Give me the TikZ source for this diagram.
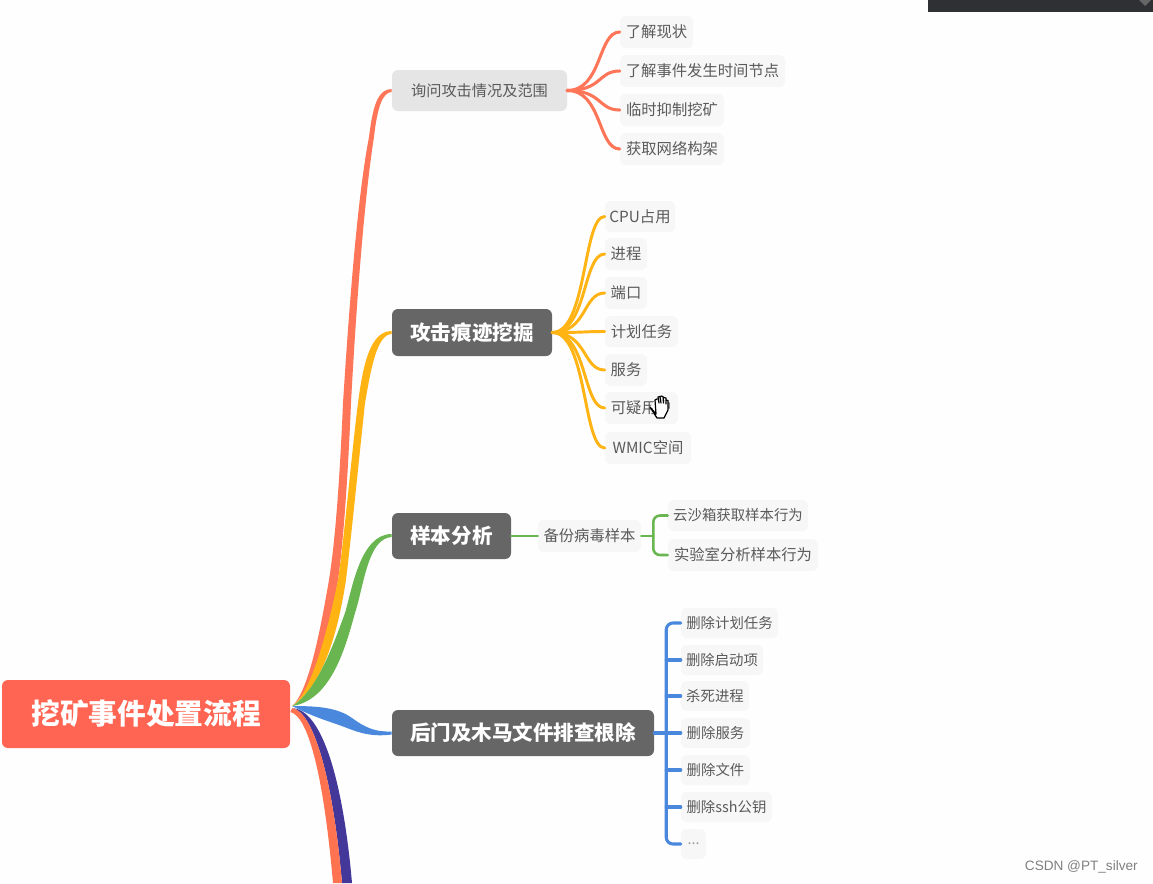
\documentclass[tikz,border=0pt]{standalone}
\usepackage{fontspec}
\setmainfont{Noto Sans CJK SC}
\newfontfamily\wmfont{Liberation Sans}
\usetikzlibrary{calc}
\definecolor{rootc}{HTML}{FF6552}
\definecolor{redb}{HTML}{FF7557}
\definecolor{yelb}{HTML}{FFB414}
\definecolor{greb}{HTML}{69B550}
\definecolor{blub}{HTML}{4A88DE}
\definecolor{navb}{HTML}{43389A}
\definecolor{orab}{HTML}{FF7350}
\definecolor{txtc}{HTML}{5A5A5A}
\definecolor{barc}{HTML}{2E3033}
\tikzset{
  x=0.75pt,y=-0.75pt,
  anybox/.style={rounded corners=4.5pt,inner sep=0pt,align=center},
  rootbox/.style={anybox,fill=rootc,text=white,font=\fontsize{21.5pt}{24pt}\selectfont\bfseries},
  mainbox/.style={anybox,fill=black!60,text=white,font=\fontsize{15.4pt}{18pt}\selectfont\bfseries},
  subbox/.style={anybox,fill=black!10,text=txtc,font=\fontsize{11.4pt}{14pt}\selectfont},
  leafbox/.style={anybox,fill=black!3,text=txtc,font=\fontsize{11.5pt}{14pt}\selectfont},
  smallbox/.style={anybox,fill=black!3,text=txtc,font=\fontsize{10.8pt}{13pt}\selectfont},
  dotsbox/.style={smallbox,text=black!40},
  redlink/.style={draw=redb,line width=2.3pt,line cap=round},
  yellink/.style={draw=yelb,line width=2.2pt,line cap=round},
  grelink/.style={draw=greb,line width=1.9pt,line cap=round,rounded corners=5pt},
  blulink/.style={draw=blub,line width=2.3pt,line cap=round,rounded corners=5pt},
  handline/.style={line cap=round,line join=round}
}
\newcommand{\boxnode}[7]{\node[#2,minimum width={(#5-#3)*0.75pt},minimum height={(#6-#4)*0.75pt}] (#1) at ({(#3+#5)/2},{(#4+#6)/2}) {#7};}
\newcommand{\curvelink}[3]{\draw[#1] (#2.east) .. controls ($(#2.east)+(35,0)$) and ($(#3.west)+(-22,0)$) .. (#3.west);}
\begin{document}
\begin{tikzpicture}
\useasboundingbox (0,0) rectangle (1153,883);
\fill[white!99.5!black] (0,0) rectangle (1153,883);
% window fragment at the top right
\fill[barc] (928,0) rectangle (1153,12);
\fill[black!60] (1139,0) -- (1151,0) -- (1145,6) -- cycle;
% nodes
\boxnode{root}{rootbox}{2}{680}{290}{748}{挖矿事件处置流程}
\boxnode{m1}{subbox}{392}{70}{567}{111}{询问攻击情况及范围}
\boxnode{m2}{mainbox}{392}{309}{552}{356}{攻击痕迹挖掘}
\boxnode{m3}{mainbox}{392}{513}{511}{559}{样本分析}
\boxnode{m4}{mainbox}{392}{710}{654}{756}{后门及木马文件排查根除}
\boxnode{a1}{leafbox}{620}{16}{693}{48}{了解现状}
\boxnode{a2}{leafbox}{620}{55}{785}{87}{了解事件发生时间节点}
\boxnode{a3}{leafbox}{620}{94}{724}{126}{临时抑制挖矿}
\boxnode{a4}{leafbox}{620}{133}{724}{165}{获取网络构架}
\boxnode{b1}{leafbox}{605}{201}{675}{232}{CPU占用}
\boxnode{b2}{leafbox}{605}{238}{647}{270}{进程}
\boxnode{b3}{leafbox}{605}{277}{647}{309}{端口}
\boxnode{b4}{leafbox}{605}{316}{678}{347}{计划任务}
\boxnode{b5}{leafbox}{605}{354}{647}{386}{服务}
\boxnode{b6}{leafbox}{605}{392}{678}{424}{可疑用户}
\boxnode{b7}{leafbox}{605}{432}{691}{464}{WMIC空间}
\boxnode{c0}{leafbox}{538}{520}{641}{552}{备份病毒样本}
\boxnode{c1}{smallbox}{668}{500}{808}{531}{云沙箱获取样本行为}
\boxnode{c2}{leafbox}{668}{539}{818}{571}{实验室分析样本行为}
\boxnode{d1}{smallbox}{681}{608}{778}{638}{删除计划任务}
\boxnode{d2}{smallbox}{681}{645}{763}{675}{删除启动项}
\boxnode{d3}{smallbox}{681}{681}{749}{711}{杀死进程}
\boxnode{d4}{smallbox}{681}{718}{750}{748}{删除服务}
\boxnode{d5}{smallbox}{681}{755}{750}{785}{删除文件}
\boxnode{d6}{smallbox}{681}{792}{772}{822}{删除ssh公钥}
\boxnode{d7}{dotsbox}{681}{829}{706}{859}{...}
% anchor points of the tapered branches
\coordinate (r) at ($(root.east)+(2,-8)$);
\coordinate (rb) at ($(root.east)+(2,-6)$);
\coordinate (rc) at ($(root.east)+(0,-2)$);
\coordinate (m1a) at ($(m1.west)+(0,-1.5)$);
\coordinate (m1b) at ($(m1.west)+(0,1.5)$);
\coordinate (m2a) at ($(m2.west)+(0,-1.5)$);
\coordinate (m2b) at ($(m2.west)+(0,1.5)$);
\coordinate (m3a) at ($(m3.west)+(0,-2)$);
\coordinate (m3b) at ($(m3.west)+(0,1)$);
\coordinate (m4a) at ($(m4.west)+(0,-1.5)$);
\coordinate (m4b) at ($(m4.west)+(0,1.5)$);
\coordinate (n1) at (342,883);
\coordinate (n2) at (352,883);
\coordinate (o1) at (333,883);
% main branches
\fill[navb] (rb) .. controls (314,712) and (333,780) .. (n1) -- (n2) .. controls (343,780) and (322,710) .. (rb) -- cycle;
\fill[orab] (rc) .. controls (309,716) and (324,780) .. (o1) -- (n1) .. controls (333,780) and (314,712) .. (rb) -- cycle;
\fill[redb] (r) .. controls (310,690) and (322,620) .. (329,580) .. controls (337,530) and (341,450) .. (343,403) .. controls (349,310) and (357,200) .. (369,137) .. controls (373,105) and (378,89) .. (m1a)
  -- (m1b) .. controls (382,92) and (377,110) .. (374,137) .. controls (364,200) and (356,310) .. (351,403) .. controls (349,450) and (345,530) .. (338,580) .. controls (331,620) and (322,680) .. (r) -- cycle;
\fill[yelb] (r) .. controls (312,694) and (330,620) .. (338,580) .. controls (344,540) and (352,450) .. (358,403) .. controls (363,365) and (370,331) .. (m2a)
  -- (m2b) .. controls (376,334) and (370,375) .. (365,403) .. controls (361,440) and (352,530) .. (346,580) .. controls (339,625) and (325,685) .. (r) -- cycle;
\fill[greb] (r) .. controls (318,690) and (335,640) .. (345,613) .. controls (352,590) and (360,534) .. (m3a)
  -- (m3b) .. controls (368,538) and (364,585) .. (355,613) .. controls (346,645) and (332,700) .. (r) -- cycle;
\fill[blub] (r) .. controls (320,706) and (338,708) .. (352,718) .. controls (366,728) and (375,732) .. (m4a)
  -- (m4b) .. controls (372,737) and (360,733) .. (347,728) .. controls (332,722) and (315,718) .. (r) -- cycle;
% first branch leaves
\curvelink{redlink}{m1}{a1}
\curvelink{redlink}{m1}{a2}
\curvelink{redlink}{m1}{a3}
\curvelink{redlink}{m1}{a4}
% second branch leaves
\curvelink{yellink}{m2}{b1}
\curvelink{yellink}{m2}{b2}
\curvelink{yellink}{m2}{b3}
\curvelink{yellink}{m2}{b4}
\curvelink{yellink}{m2}{b5}
\curvelink{yellink}{m2}{b6}
\curvelink{yellink}{m2}{b7}
% third branch
\coordinate (gx) at ($(c0.east)+(12,0)$);
\draw[grelink] (m3.east) -- (c0.west);
\draw[grelink] (c0.east) -- (gx);
\draw[grelink] (c1.west) -| (gx) |- (c2.west);
% fourth branch
\coordinate (bx) at ($(m4.east)+(12,0)$);
\draw[blulink] (m4.east) -- (d4.west);
\draw[blulink] (d1.west) -| (bx) |- (d7.west);
\draw[blulink] (bx |- d2.west) -- (d2.west);
\draw[blulink] (bx |- d3.west) -- (d3.west);
\draw[blulink] (bx |- d5.west) -- (d5.west);
\draw[blulink] (bx |- d6.west) -- (d6.west);
% hand cursor
\begin{scope}[shift={(660,406)}]
\fill[white] (-8,6) -- (-6,-4) -- (7,-4) -- (7,6) -- (3,12) -- (-3,12) -- cycle;
\draw[handline,line width=0.9pt,fill=white] (-10,1) -- (-4,8) -- (-5,-6) (-2,-9) -- (-1,-3) (-2,-9) -- (0,-9.5) -- (1,-3) (1,-10) -- (3,-9.5) -- (3.5,-3) (4,-8.5) -- (6,-8) -- (6,-2) (6,-6) -- (8,-5.5) -- (8,4) -- (4,12) -- (-3,12) -- (-10,1) (-5,-6) -- (-3,-7);
\end{scope}
% watermark
\node[text=black!50,font=\wmfont\fontsize{10.2pt}{12pt}\selectfont,anchor=east,inner sep=0pt] (wm) at (1138,867) {CSDN @PT\_silver};
\end{tikzpicture}
\end{document}
